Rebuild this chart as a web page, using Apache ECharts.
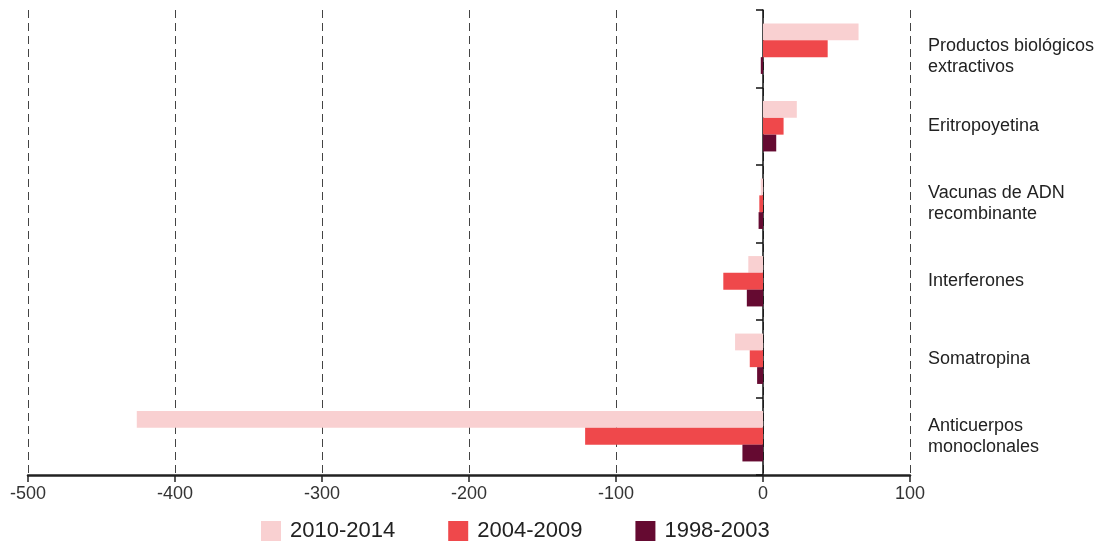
<!DOCTYPE html>
<html>
<head>
<meta charset="utf-8">
<script src="https://cdn.jsdelivr.net/npm/echarts@6/dist/echarts.min.js"></script>
<style>
html,body{margin:0;padding:0;background:#fff;}
#chart{width:1114px;height:542px;}
</style>
</head>
<body>
<div id="chart"></div>
<script>
const categories = ['Productos biológicos\nextractivos','Eritropoyetina','Vacunas de ADN\nrecombinante','Interferones','Somatropina','Anticuerpos\nmonoclonales'];
const seriesNames = ['2010-2014','2004-2009','1998-2003'];
const s2010 = [65, 23, -1.5, -10, -19, -426];
const s2004 = [44, 14, -2.5, -27, -9, -121];
const s1998 = [-1.5, 9, -3, -11, -4, -14];
const xTicks = [-500, -400, -300, -200, -100, 0, 100];

const colors = ['#f9d0d1', '#ef484b', '#650a31'];
const values = [s2010, s2004, s1998];
const FONT = 'Liberation Sans, Arial, sans-serif';

const chart = echarts.init(document.getElementById('chart'), null, {renderer: 'canvas'});
chart.setOption({
  animation: false,
  backgroundColor: '#fff',
  grid: {left: 28, right: 204, top: 10, bottom: 67, containLabel: false},
  legend: {
    data: seriesNames,
    top: 520,
    left: 261,
    padding: 0,
    itemWidth: 20, itemHeight: 20, itemGap: 53,
    icon: 'rect',
    textStyle: {fontFamily: FONT, fontSize: 22, color: '#222', padding: [0,0,0,4]}
  },
  xAxis: {
    type: 'value',
    min: xTicks[0], max: xTicks[xTicks.length-1], interval: 100,
    axisLine: {show: true, onZero: false, lineStyle: {color: '#222', width: 2.5}},
    axisTick: {show: true, length: 7, lineStyle: {color: '#222', width: 1.5}},
    axisLabel: {fontFamily: FONT, fontSize: 18, color: '#333', margin: 10},
    splitLine: {show: true, lineStyle: {color: '#444', width: 1, type: [8, 5]}}
  },
  yAxis: [
    {
      type: 'category', data: categories, inverse: true,
      position: 'left',
      axisLine: {show: true, onZero: true, lineStyle: {color: '#111', width: 1.5}},
      axisTick: {show: true, length: 7, lineStyle: {color: '#111', width: 1.5}},
      axisLabel: {show: false},
      splitLine: {show: false}
    },
    {
      type: 'category', data: categories, inverse: true,
      position: 'right',
      axisLine: {show: false, onZero: false},
      axisTick: {show: false},
      axisLabel: {
        show: true, margin: 18, fontFamily: FONT, fontSize: 18, color: '#222', lineHeight: 21, align: 'left',
        formatter: function (v, i) { return i === 0 ? '{a|' + v + '}' : v; },
        rich: {a: {fontFamily: FONT, fontSize: 18, color: '#222', lineHeight: 21, padding: [16, 0, 0, 0]}}
      },
      splitLine: {show: false}
    }
  ],
  series: seriesNames.map((n, i) => ({
    name: n, type: 'bar', yAxisIndex: 0,
    data: values[i],
    barGap: '0%', barCategoryGap: '35%',
    itemStyle: {color: colors[i]}
  }))
});
</script>
</body>
</html>
